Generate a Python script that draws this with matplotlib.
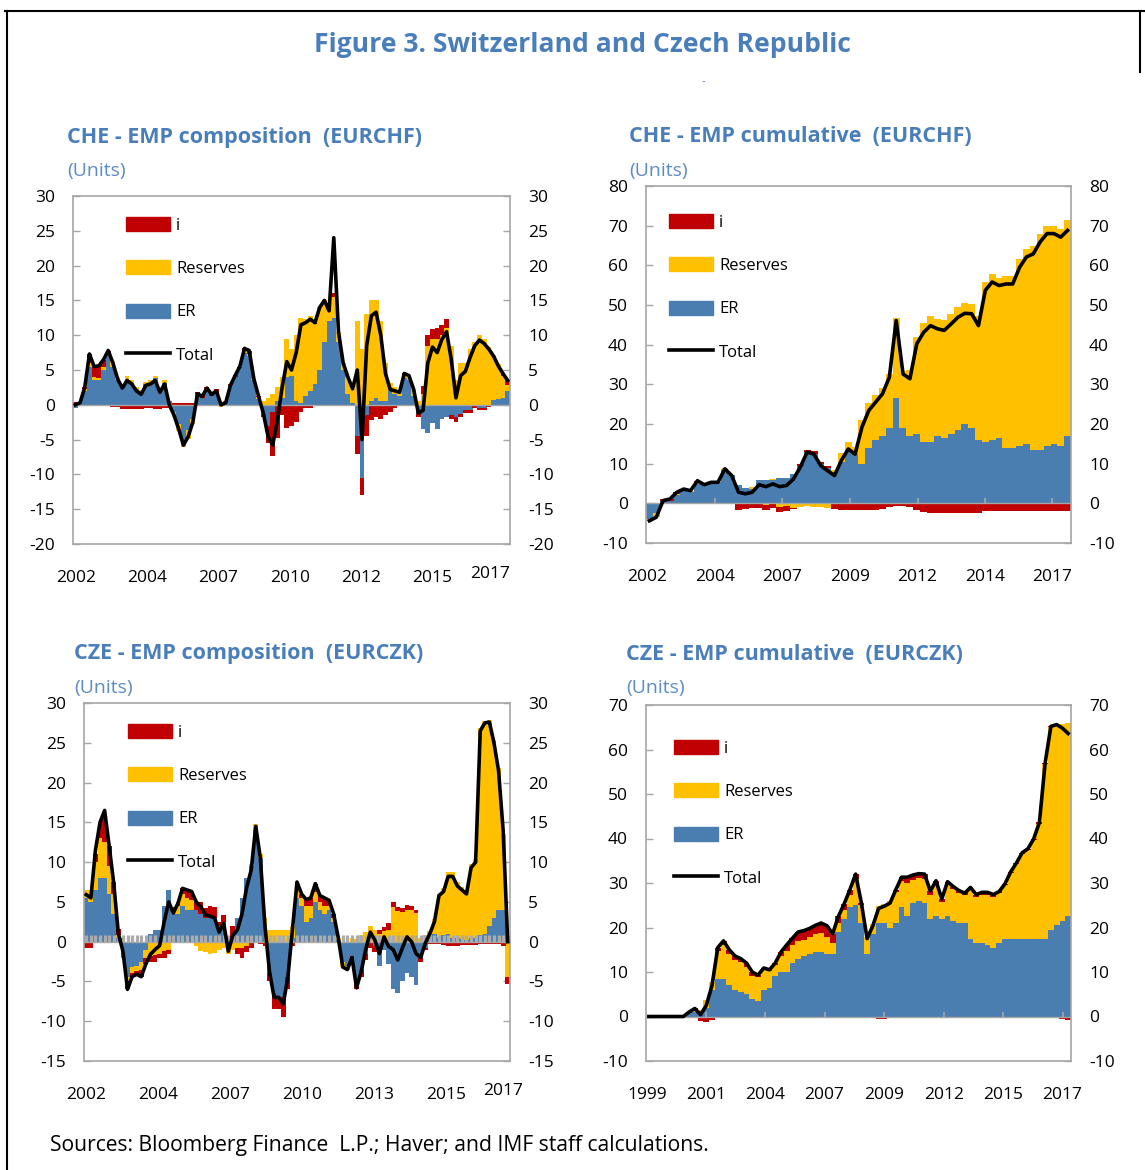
import numpy as np
import matplotlib
matplotlib.use("Agg")
import matplotlib.pyplot as plt
from matplotlib.patches import Patch
from matplotlib.lines import Line2D
from matplotlib.transforms import offset_copy

plt.rcParams["font.family"] = ["Open Sans", "DejaVu Sans"]
plt.rcParams["axes.unicode_minus"] = False

W, H = 1145, 1170
RED = "#C00000"
GOLD = "#FFC000"
BLUE = "#4A7EB1"
TITLE_BLUE = "#4A7EBB"
GRID = "#A6A6A6"

# ---------------------------------------------------------------------------
# CHE - EMP composition (bi-monthly, 2002-2017)
che_comp_er = [
    -0.4, 0.2, 2.0, 5.5, 3.5, 3.5, 5.0, 7.0, 5.5, 3.5,
    2.8, 3.5, 3.2, 2.3, 1.8, 3.0, 3.2, 3.8, 2.2, 3.2,
    0.5, -1.0, -2.8, -5.2, -3.6, -2.0, 1.5, 1.0, 2.0, 1.3,
    1.7, 0.2, 0.5, 2.8, 4.0, 5.3, 7.5, 7.0, 3.5, 0.8,
    -1.5, -3.0, -1.0, 0.5, 1.0, 4.0, 4.2, 0.5, 0.3, 1.3,
    2.0, 3.0, 5.0, 9.0, 12.0, 12.5, 9.0, 5.0, 1.5, 0.2,
    -4.5, -10.5, -1.5, 0.5, 1.0, 0.5, 0.5, 2.0, 1.5, 1.2,
    3.8, 3.5, 1.2, -1.2, -3.5, -4.0, -2.6, -3.5, -2.1, -1.8,
    -1.5, -1.8, -1.3, -0.8, -0.8, -0.2, -0.4, -0.4, -0.1, 0.7,
    0.8, 1.0, 2.0,
]
che_comp_res = [
    0.1, 0.1, 0.2, 0.5, 0.5, 0.3, 0.5, 0.5, 0.8, 0.5,
    0.2, 0.6, 0.4, 0.3, 0.3, 0.3, 0.3, 0.3, 0.2, 0.3,
    -0.2, -0.7, -0.9, -0.9, -1.3, -0.8, -0.2, -0.2, -0.2, -0.2,
    -0.2, -0.3, -0.2, -0.2, -0.1, 0.0, 0.2, 0.3, 0.2, 0.3,
    0.5, 1.0, 1.5, 2.0, 3.0, 5.5, 3.8, 9.5, 12.2, 11.0,
    10.8, 8.6, 9.0, 6.0, 1.5, 3.0, 1.5, 1.0, 2.5, 2.1,
    12.0, 8.0, 13.0, 14.5, 14.0, 11.5, 5.5, 1.2, 1.0, 0.8,
    0.5, 0.7, 1.0, 0.5, 1.5, 8.5, 9.5, 9.5, 10.0, 11.0,
    8.5, 3.5, 6.0, 6.0, 8.0, 9.0, 10.0, 9.5, 8.3, 6.5,
    5.0, 3.2, 0.8,
]
che_comp_i = [
    0.3, 0.0, 0.3, 1.3, 1.5, 1.8, 1.0, 0.3, -0.3, -0.3,
    -0.6, -0.6, -0.6, -0.6, -0.6, -0.5, -0.5, -0.6, -0.6, -0.5,
    -0.3, 0.2, 0.2, 0.3, 0.3, 0.3, 0.3, 0.4, 0.6, 0.4,
    0.5, 0.1, 0.0, 0.2, 0.3, 0.2, 0.4, 0.5, 0.0, 0.1,
    -0.2, -2.5, -6.3, -4.7, -1.5, -3.3, -3.0, -2.5, -1.0, -0.5,
    -0.5, 0.2, 0.0, 0.0, 0.0, 0.5, 0.0, 0.0, 0.0, 0.0,
    -2.5, -2.5, -3.0, -2.2, -1.7, -2.0, -1.5, -1.0, -0.5, -0.2,
    0.2, 0.0, 0.0, -0.5, 1.2, 1.5, 1.4, 1.5, 1.5, 1.3,
    -0.5, -0.7, -0.5, -0.4, -0.4, -0.3, -0.3, -0.3, -0.2, -0.2,
    -0.2, 0.3, 0.7,
]
che_comp_total = [
    0.0, 0.3, 2.5, 7.3, 5.5, 5.6, 6.5, 7.8, 6.0, 3.7,
    2.4, 3.5, 3.0, 2.0, 1.5, 2.8, 3.0, 3.5, 1.8, 3.0,
    0.0, -1.5, -3.5, -5.8, -4.6, -2.5, 1.6, 1.2, 2.4, 1.5,
    2.0, 0.0, 0.3, 2.8, 4.2, 5.5, 8.1, 7.8, 3.7, 1.2,
    -1.2, -4.5, -5.8, -2.2, 2.5, 6.2, 5.0, 7.5, 11.5, 11.8,
    12.3, 11.8, 14.0, 15.0, 13.5, 24.0, 10.5, 6.0, 4.0, 2.3,
    5.0, -5.0, 8.5, 12.8, 13.3, 10.0, 4.5, 2.2, 2.0, 1.8,
    4.5, 4.2, 2.2, -1.2, -0.8, 6.0, 8.3, 7.5, 9.4, 10.5,
    6.5, 1.0, 4.2, 4.8, 6.8, 8.5, 9.3, 8.8, 8.0, 7.0,
    5.6, 4.5, 3.5,
]
che_comp_xlabels = ["2002", "2004", "2007", "2010", "2012", "2015", "2017"]

# CHE - EMP cumulative (quarterly, 2002-2017)
che_cum_er = [
    -4.0, -2.5, 0.5, 0.6, 2.0, 3.0, 2.8, 5.0, 4.5, 5.0,
    5.3, 8.5, 7.2, 4.5, 3.8, 3.6, 5.8, 6.0, 6.0, 6.3,
    6.5, 7.5, 9.5, 13.0, 12.5, 10.0, 9.0, 8.0, 10.5, 13.5,
    12.5, 10.0, 14.0, 16.0, 17.0, 19.0, 26.5, 19.0, 17.0, 17.5,
    15.5, 15.5, 17.0, 16.5, 17.5, 18.5, 20.0, 19.0, 16.0, 15.5,
    16.0, 16.5, 14.0, 14.0, 14.5, 15.0, 13.5, 13.5, 14.5, 15.0,
    14.5, 17.0,
]
che_cum_res = [
    -0.4, -1.0, 0.0, 0.0, 0.4, 0.3, 0.2, 0.3, 0.1, 0.3,
    0.2, 0.3, 0.0, -0.2, 0.0, 0.4, 0.1, -0.4, 0.1, -0.8,
    -0.7, -1.1, -0.9, -0.6, -0.9, -1.0, -1.1, 0.5, 2.1, 2.0,
    1.7, 11.0, 11.2, 11.3, 12.1, 13.6, 20.2, 14.3, 16.5, 24.5,
    29.9, 31.8, 29.5, 29.6, 30.2, 30.9, 30.4, 31.3, 31.3, 40.2,
    41.8, 40.4, 43.3, 43.3, 47.0, 49.1, 51.4, 54.4, 55.5, 55.0,
    54.6, 54.5,
]
che_cum_i = [
    0.0, 0.0, 0.5, 0.6, 0.4, 0.3, 0.2, 0.4, 0.1, 0.0,
    0.0, 0.0, -0.2, -1.5, -1.4, -1.2, -1.2, -1.4, -1.2, -1.3,
    -1.3, -0.3, 0.5, 0.5, 0.8, 0.5, 0.3, -1.5, -1.8, -1.8,
    -1.8, -1.8, -1.8, -1.8, -1.5, -0.8, -0.6, -0.7, -1.0, -1.8,
    -2.3, -2.5, -2.5, -2.5, -2.5, -2.5, -2.5, -2.5, -2.5, -2.0,
    -2.0, -2.0, -2.0, -2.0, -2.0, -2.0, -2.0, -2.0, -2.0, -2.0,
    -2.0, -2.0,
]
che_cum_total = [
    -4.4, -3.5, 0.7, 1.1, 2.8, 3.6, 3.2, 5.7, 4.7, 5.3,
    5.3, 8.7, 7.0, 2.8, 2.4, 2.8, 4.7, 4.2, 4.9, 4.2,
    4.5, 6.1, 9.1, 12.9, 12.4, 9.5, 8.2, 7.0, 10.8, 13.7,
    12.4, 19.2, 23.4, 25.5, 27.6, 31.8, 46.1, 32.6, 31.4, 40.2,
    43.1, 44.8, 44.0, 43.6, 45.2, 46.9, 47.9, 47.8, 44.8, 53.7,
    55.8, 54.9, 55.3, 55.3, 59.5, 62.1, 62.9, 65.9, 68.0, 68.0,
    67.1, 68.8,
]
che_cum_xlabels = ["2002", "2004", "2007", "2009", "2012", "2014", "2017"]

# CZE - EMP composition (bi-monthly, 2002-2017)
cze_comp_er = [
    5.5, 5.0, 6.5, 8.0, 8.0, 6.0, 3.5, 0.5, -2.0, -4.5,
    -3.2, -3.0, -2.5, -1.0, 1.0, 1.5, 1.5, 4.5, 6.5, 3.5,
    3.5, 4.5, 4.0, 4.0, 4.0, 3.5, 3.0, 3.0, 3.0, 2.0,
    2.5, 0.2, 0.5, 3.0, 5.5, 8.0, 9.5, 14.0, 10.5, 2.0,
    -4.0, -6.5, -7.0, -7.0, -4.5, 0.5, 5.5, 4.5, 2.5, 3.0,
    5.0, 4.0, 3.5, 4.0, 2.5, 0.2, -2.5, -3.0, -1.8, -5.0,
    -3.5, -1.5, 0.5, -0.5, -3.0, -1.0, -2.8, -6.0, -6.5, -5.0,
    -4.0, -4.5, -5.5, -2.0, -0.8, 0.5, 1.0, 0.5, 0.8, 1.0,
    0.5, 0.5, 0.3, 0.2, 0.5, 0.5, 0.8, 1.0, 2.0, 3.0,
    4.0, 4.0, 0.5,
]
cze_comp_res = [
    1.0, 1.5, 3.5, 5.0, 4.5, 3.5, 2.5, 0.3, 0.0, -0.8,
    -0.8, -0.7, -1.0, -1.0, -1.8, -1.7, -1.5, -1.2, -1.0, 0.5,
    1.0, 1.5, 1.5, 1.2, -0.5, -1.2, -1.3, -1.5, -1.4, -1.0,
    -0.8, -1.5, -1.0, -0.8, -0.8, -0.5, 0.3, 0.8, 0.5, 1.0,
    1.5, 1.5, 1.5, 1.5, 1.5, 1.5, 1.5, 1.0, 2.0, 1.5,
    1.3, 1.0, 1.0, 0.5, 0.5, 0.3, -0.7, -0.5, 0.5, 0.3,
    0.8, 1.2, 1.5, 1.5, 1.0, 1.3, 1.5, 4.3, 3.8, 3.7,
    4.0, 4.0, 3.6, 0.5, 0.8, 0.8, 1.8, 5.5, 6.0, 7.8,
    8.2, 7.0, 6.6, 6.2, 9.2, 9.9, 26.0, 26.8, 25.9, 22.3,
    17.8, 9.5, -4.5,
]
cze_comp_i = [
    -0.8, -0.8, 1.0, 2.0, 3.0, 2.5, 1.5, 0.8, 0.5, -0.7,
    -0.4, -0.4, -0.9, -0.8, -0.8, -0.8, -0.5, -0.8, -0.5, 0.3,
    0.5, 0.8, 1.0, 1.0, 1.0, 1.5, 1.2, 1.5, 1.3, 0.5,
    0.8, 0.3, 1.5, -0.8, -1.2, -0.8, -0.8, 0.0, -0.3, -0.5,
    -1.0, -2.0, -1.5, -2.5, -1.5, -0.5, 0.5, 0.5, 0.8, 1.0,
    1.0, 0.8, 1.0, 0.7, 0.5, 0.0, 0.0, 0.0, -0.5, -1.0,
    -1.0, -0.8, -0.8, -0.8, 0.5, 0.5, 0.8, 0.7, 0.5, 0.5,
    0.6, 0.5, 0.4, -0.5, -0.2, -0.3, -0.3, -0.3, -0.4, -0.5,
    -0.5, -0.5, -0.4, -0.4, -0.4, -0.4, -0.3, -0.3, -0.3, -0.3,
    -0.3, -0.5, -0.8,
]
cze_comp_total = [
    5.9, 5.5, 11.5, 15.0, 16.5, 12.0, 7.3, 1.0, -1.2, -6.0,
    -4.4, -4.1, -4.4, -2.8, -1.6, -1.0, -0.5, 2.5, 5.0, 3.6,
    4.8, 6.7, 6.5, 6.3, 5.0, 4.4, 3.4, 3.2, 3.0, 1.2,
    2.3, -1.2, 0.8, 1.5, 3.5, 6.8, 9.0, 14.5, 10.5, 2.0,
    -3.8, -7.0, -7.0, -7.8, -4.5, 1.5, 7.5, 6.0, 5.3, 5.5,
    7.3, 5.8, 5.5, 5.2, 3.5, 0.5, -3.2, -3.5, -2.0, -5.8,
    -3.8, -1.0, 1.2, 0.2, -1.5, 0.6, -0.6, -1.0, -2.3, -0.8,
    0.6, 0.0, -1.5, -2.0, -0.2, 1.0, 2.5, 5.8, 6.3, 8.2,
    8.2, 7.0, 6.5, 6.0, 9.3, 10.0, 26.5, 27.5, 27.6, 25.0,
    21.5, 14.0, 0.0,
]
cze_comp_xlabels = ["2002", "2004", "2007", "2010", "2013", "2015", "2017"]

# CZE - EMP cumulative (quarterly, 1999-2017)
cze_cum_er = [
    0.0, 0.0, 0.0, 0.0, 0.0, 0.0, 0.0, 0.8, 1.0, 0.8,
    2.0, 6.0, 8.5, 8.5, 7.0, 6.0, 5.5, 5.0, 4.0, 3.5,
    6.0, 6.3, 9.0, 10.0, 10.0, 12.0, 13.0, 13.5, 14.0, 14.5,
    14.5, 14.0, 14.0, 19.0, 22.0, 24.5, 25.0, 21.0, 14.0, 18.5,
    21.0, 21.0, 20.0, 21.0, 24.5, 22.5, 25.5, 26.0, 25.5, 22.0,
    22.5, 22.0, 22.5, 21.5, 21.0, 21.0, 17.5, 16.5, 16.5, 16.0,
    15.5, 16.5, 17.5, 17.5, 17.5, 17.5, 17.5, 17.5, 17.5, 17.5,
    19.5, 20.5, 21.5, 22.5,
]
cze_cum_res = [
    0.0, 0.0, 0.0, 0.0, 0.0, 0.0, 0.0, 0.0, 0.5, 0.6,
    1.8, 1.8, 6.2, 7.5, 7.0, 6.8, 6.7, 6.2, 5.2, 5.3,
    4.5, 3.9, 2.5, 3.5, 4.8, 4.1, 4.0, 3.8, 3.8, 4.0,
    4.3, 3.9, 2.6, 2.0, 2.0, 2.8, 6.0, 4.0, 3.8, 2.3,
    3.8, 4.3, 5.9, 7.0, 6.0, 7.6, 5.1, 5.1, 5.5, 5.4,
    7.3, 3.8, 7.2, 7.2, 6.8, 6.3, 11.1, 10.4, 10.9, 11.4,
    11.4, 11.3, 12.0, 14.7, 16.7, 19.0, 19.9, 22.1, 25.8, 39.3,
    45.5, 45.1, 44.3, 43.5,
]
cze_cum_i = [
    0.0, 0.0, 0.0, 0.0, 0.0, 0.0, 0.0, 0.2, 0.3, -1.0,
    -1.3, -0.8, 0.8, 1.0, 1.0, 0.8, 0.8, 0.8, 0.8, 0.5,
    0.4, 0.3, 0.5, 1.0, 1.3, 1.5, 2.0, 2.0, 2.0, 2.0,
    2.2, 2.5, 2.0, 1.5, 1.3, 1.2, 1.0, 0.5, -0.3, -0.4,
    -0.5, -0.5, -0.4, 0.5, 0.8, 1.2, 1.2, 1.0, 1.0, 0.8,
    0.7, 0.6, 0.6, 0.5, 0.5, 0.4, 0.4, 0.5, 0.5, 0.5,
    0.5, 0.3, 0.3, 0.3, 0.3, 0.3, 0.3, 0.3, 0.3, 0.2,
    0.2, 0.0, -0.5, -0.8,
]
cze_cum_total = [
    0.0, 0.0, 0.0, 0.0, 0.0, 0.0, 0.0, 1.0, 1.8, 0.4,
    2.5, 7.0, 15.5, 17.0, 15.0, 13.6, 13.0, 12.0, 10.0, 9.3,
    10.9, 10.5, 12.0, 14.5, 16.1, 17.6, 19.0, 19.3, 19.8, 20.5,
    21.0, 20.4, 18.6, 22.5, 25.3, 28.5, 32.0, 25.5, 17.5, 20.4,
    24.3, 24.8, 25.5, 28.5, 31.3, 31.3, 31.8, 32.1, 32.0, 28.2,
    30.5, 26.4, 30.3, 29.2, 28.3, 27.7, 29.0, 27.4, 27.9, 27.9,
    27.4, 28.1, 29.8, 32.5, 34.5, 36.8, 37.7, 39.9, 43.6, 57.0,
    65.2, 65.6, 64.8, 63.6,
]
cze_cum_xlabels = ["1999", "2001", "2004", "2007", "2009", "2012", "2015", "2017"]

legend_labels = ["i", "Reserves", "ER", "Total"]

TICK_FS = 12.5
LEG_FS = 12
LINE_W = 2.6


# ---------------------------------------------------------------------------
def px_axes(fig, left, top, right, bottom):
    return fig.add_axes([left / W, 1 - bottom / H, (right - left) / W, (bottom - top) / H])


def ftext(fig, x, y, s, **kw):
    fig.text(x / W, 1 - y / H, s, **kw)


def stack_bars(ax, parts, colors):
    n = len(parts[0])
    x = np.arange(n)
    up = np.zeros(n)
    down = np.zeros(n)
    for vals, c in zip(parts, colors):
        v = np.asarray(vals, float)
        base = np.where(v >= 0, up, down)
        ax.bar(x, v, width=1.04, bottom=base, color=c, linewidth=0, zorder=2)
        up = np.where(v >= 0, up + v, up)
        down = np.where(v < 0, down + v, down)
    return x


def panel(fig, box, er, res, ir, total, ylim, ystep, xlabels, xfracs,
          leg_off, zero_ticks=False, tick_band=False, last_raise=0):
    ax = px_axes(fig, *box)
    x = stack_bars(ax, [er, res, ir], [BLUE, GOLD, RED])
    n = len(x)
    ax.axhline(0, color=GRID, lw=1.0, zorder=3)
    if tick_band:
        ax.vlines(x, 0, 0.85, color="#ABABAB", lw=2.3, zorder=3)
    if zero_ticks:
        h = 0.014 * (ylim[1] - ylim[0])
        for f in xfracs[1:]:
            if f < 1:
                ax.vlines(-0.5 + f * n, 0, h, color=GRID, lw=1.2, zorder=3)
    ax.plot(x, total, color="black", lw=LINE_W, zorder=4, solid_joinstyle="round")

    ax.set_xlim(-0.5, n - 0.5)
    ax.set_ylim(*ylim)
    ax.set_yticks(np.arange(ylim[0], ylim[1] + 0.1, ystep))
    ax.set_xticks([])
    ax.tick_params(axis="y", direction="in", length=5, width=1, color=GRID,
                   left=True, right=True, labelleft=True, labelright=True,
                   labelsize=TICK_FS, pad=13)
    for sp in ax.spines.values():
        sp.set_color(GRID)
        sp.set_linewidth(1.2)

    for k, (lab, f) in enumerate(zip(xlabels, xfracs)):
        dy = 34 - (last_raise if k == len(xlabels) - 1 else 0)
        tr = offset_copy(ax.transAxes, fig=fig, y=-dy, units="dots")
        ax.text(f, 0, lab, transform=tr, ha="center", va="center", fontsize=TICK_FS)

    w_px = box[2] - box[0]
    h_px = box[3] - box[1]
    handles = [Patch(color=RED), Patch(color=GOLD), Patch(color=BLUE),
               Line2D([], [], color="black", lw=LINE_W)]
    ax.legend(handles, legend_labels, loc="upper left",
              bbox_to_anchor=(leg_off[0] / w_px, 1 - leg_off[1] / h_px),
              frameon=False, fontsize=LEG_FS, handlelength=2.65, handleheight=0.9,
              labelspacing=1.6, handletextpad=0.35, borderpad=0, borderaxespad=0)
    return ax


fig = plt.figure(figsize=(W / 100, H / 100), dpi=100)

# frame
fig.add_artist(Line2D([5 / W, 1], [1 - 11 / H] * 2, transform=fig.transFigure, color="black", lw=1.5))
fig.add_artist(Line2D([7 / W] * 2, [1 - 11 / H, 0], transform=fig.transFigure, color="black", lw=1.5))
fig.add_artist(Line2D([1140 / W] * 2, [1 - 11 / H, 1 - 72 / H], transform=fig.transFigure, color="black", lw=1.5))

ftext(fig, 582, 45, "Figure 3. Switzerland and Czech Republic", ha="center", va="center",
      fontsize=19.1, fontweight="bold", color=TITLE_BLUE)
ftext(fig, 703, 82, "-", ha="center", va="center", fontsize=8, color=TITLE_BLUE)

sub_titles = [
    (67, 137, "CHE - EMP composition  (EURCHF)"),
    (629, 137, "CHE - EMP cumulative  (EURCHF)"),
    (74, 654, "CZE - EMP composition  (EURCZK)"),
    (626, 654, "CZE - EMP cumulative  (EURCZK)"),
]
for xx, yy, s in sub_titles:
    ftext(fig, xx, yy, s, ha="left", va="center", fontsize=15.5, fontweight="bold", color=TITLE_BLUE)
    ftext(fig, xx, yy + 34, "(Units)", ha="left", va="center", fontsize=14, color="#5B8CC4")

panel(fig, (73, 196, 510, 544), che_comp_er, che_comp_res, che_comp_i, che_comp_total,
      (-20, 30), 5, che_comp_xlabels,
      [0.007, 0.169, 0.332, 0.497, 0.659, 0.822, 0.954], (53, 21), last_raise=4)

panel(fig, (646, 186, 1071, 543), che_cum_er, che_cum_res, che_cum_i, che_cum_total,
      (-10, 80), 10, che_cum_xlabels,
      [0.002, 0.162, 0.319, 0.479, 0.639, 0.798, 0.956], (23, 28), zero_ticks=True)

panel(fig, (84, 703, 510, 1061), cze_comp_er, cze_comp_res, cze_comp_i, cze_comp_total,
      (-15, 30), 5, cze_comp_xlabels,
      [0.005, 0.174, 0.343, 0.512, 0.681, 0.850, 0.984], (44, 21), tick_band=True, last_raise=4)

panel(fig, (646, 705, 1071, 1061), cze_cum_er, cze_cum_res, cze_cum_i, cze_cum_total,
      (-10, 70), 10, cze_cum_xlabels,
      [0.003, 0.141, 0.281, 0.420, 0.560, 0.701, 0.841, 0.980], (28, 35), zero_ticks=True)

ftext(fig, 50, 1146, "Sources: Bloomberg Finance  L.P.; Haver; and IMF staff calculations.",
      ha="left", va="center", fontsize=15.2)

fig.savefig("out.png", dpi=100)
